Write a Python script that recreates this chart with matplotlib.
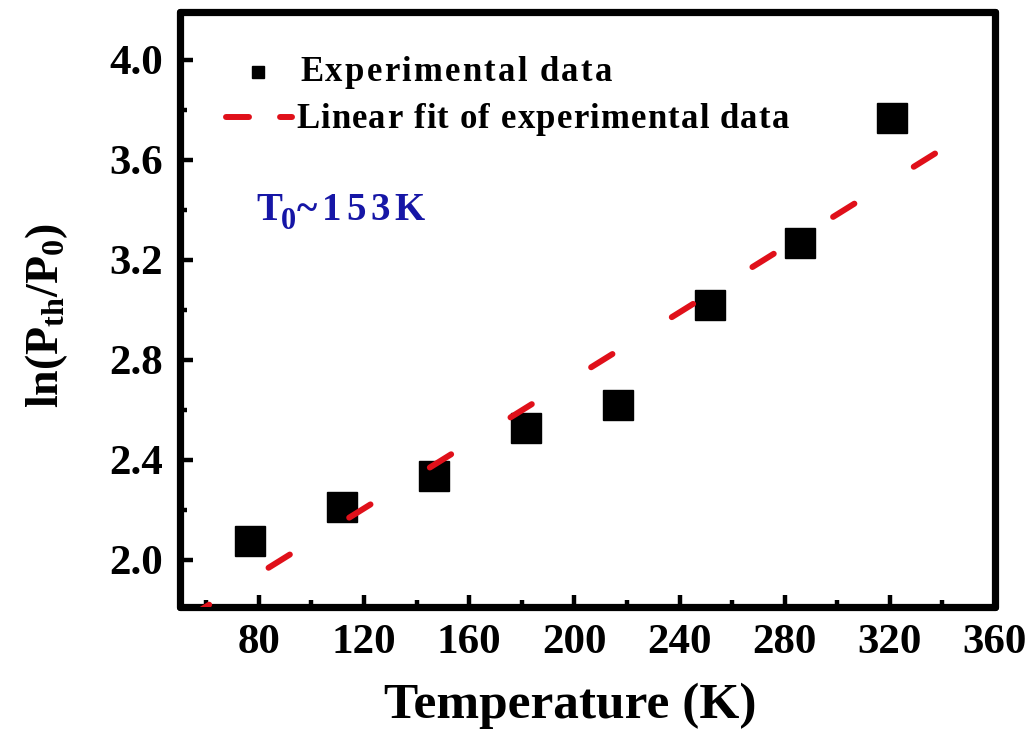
import numpy as np
import matplotlib
matplotlib.use("Agg")
import matplotlib.pyplot as plt
from matplotlib import font_manager, ft2font
from matplotlib.font_manager import FontProperties
from matplotlib.ticker import MultipleLocator

# Measured threshold data
temperature = [76.5, 111.5, 146.5, 181.5, 216.5, 251.5, 286.0, 321.0]
ln_pth_p0 = [2.076, 2.212, 2.336, 2.528, 2.620, 3.020, 3.268, 3.768]

# Linear fit: ln(Pth/P0) = T / T0 + b
T0 = 153.0
fit_intercept = 1.42
fit_range = [53.0, 341.0]

xticks = [80, 120, 160, 200, 240, 280, 320, 360]
yticks = [2.0, 2.4, 2.8, 3.2, 3.6, 4.0]

legend_labels = ["Experimental data", "Linear fit of experimental data"]
t0_label = ["T", "0", "~153K"]

W, H, DPI = 1031, 741, 100
FIT_RED = "#e0101a"
NOTE_BLUE = "#1616a6"

plt.rcParams["font.family"] = ["Liberation Serif", "DejaVu Serif"]
plt.rcParams["font.weight"] = "bold"
plt.rcParams["mathtext.fontset"] = "custom"
plt.rcParams["mathtext.rm"] = "Liberation Serif:bold"
plt.rcParams["mathtext.it"] = "Liberation Serif:bold"
plt.rcParams["mathtext.bf"] = "Liberation Serif:bold"

_font_path = font_manager.findfont(
    FontProperties(family="Liberation Serif", weight="bold"))


def advances(s, size):
    """Pixel advance of each character at the given point size."""
    f = ft2font.FT2Font(_font_path)
    f.set_size(size, DPI)
    out = []
    for ch in s:
        g = f.load_char(ord(ch))
        out.append(g.linearHoriAdvance / 65536.0)
    return out


def tracked_text(fig, s, x_px, base_px, size, width_px=None, **kw):
    """Write s letter by letter (pixel coords from top-left), optionally
    spreading the letters so the string spans width_px."""
    adv = advances(s, size)
    spacing = 0.0
    if width_px is not None and len(s) > 1:
        spacing = max(0.0, (width_px - sum(adv)) / (len(s) - 1))
    x = x_px
    for ch, a in zip(s, adv):
        if ch != " ":
            fig.text(x / W, 1 - base_px / H, ch, fontsize=size,
                     fontweight="bold", ha="left", va="baseline", **kw)
        x += a + spacing
    return x


fig = plt.figure(figsize=(W / DPI, H / DPI), dpi=DPI)
ax = fig.add_axes([180 / W, 1 - 607 / H, 815 / W, 595 / H])

fit_x = np.linspace(fit_range[0], fit_range[1], 300)
fit_y = fit_x / T0 + fit_intercept
ax.plot(fit_x, fit_y, color=FIT_RED, lw=4.3, dashes=(4.2, 11.7),
        dash_capstyle="round", zorder=3)
ax.plot(temperature, ln_pth_p0, ls="none", marker="s", ms=21.5,
        color="black", zorder=2)

ax.set_xlim(50, 360)
ax.set_ylim(1.81, 4.19)
ax.set_xticks(xticks)
ax.set_yticks(yticks)
ax.xaxis.set_minor_locator(MultipleLocator(20))
ax.yaxis.set_minor_locator(MultipleLocator(0.2))
ax.set_xticklabels([str(t) for t in xticks])
ax.set_yticklabels([f"{t:.1f}" for t in yticks])

ax.tick_params(which="both", direction="in", width=3.2, labelsize=31,
               top=False, right=False)
ax.tick_params(which="major", length=9, pad=12)
ax.tick_params(which="minor", length=5)
for sp in ax.spines.values():
    sp.set_linewidth(5.2)
    sp.set_joinstyle("round")
    sp.set_capstyle("round")

ax.set_xlabel("Temperature (K)", fontsize=37, fontweight="bold")
ax.xaxis.set_label_coords(0.479, -0.127)
ax.set_ylabel(r"ln(P$_{\mathrm{th}}$/P$_{0}$)", fontsize=33,
              fontweight="bold")
ax.yaxis.set_label_coords(-0.135, 0.49)

# legend keys
ax.plot([0.0957], [0.899], transform=ax.transAxes, ls="none", marker="s",
        ms=8, color="black", clip_on=False)
ax.plot([0.0564, 0.1374], [0.8235, 0.8235], transform=ax.transAxes,
        color=FIT_RED, lw=4.3, dashes=(3.85, 5.2), dash_capstyle="round",
        clip_on=False)

# legend labels
tracked_text(fig, legend_labels[0], 300, 81, 25, width_px=312, color="black")
tracked_text(fig, legend_labels[1], 296, 128, 25, width_px=493, color="black")

# characteristic temperature note
x = tracked_text(fig, t0_label[0], 256, 220, 28, color=NOTE_BLUE)
x = tracked_text(fig, t0_label[1], x - 1, 229, 22, color=NOTE_BLUE)
tracked_text(fig, t0_label[2], x + 1, 220, 28, width_px=425 - (x + 1),
             color=NOTE_BLUE)

fig.savefig("out.png", dpi=DPI, facecolor="white")
